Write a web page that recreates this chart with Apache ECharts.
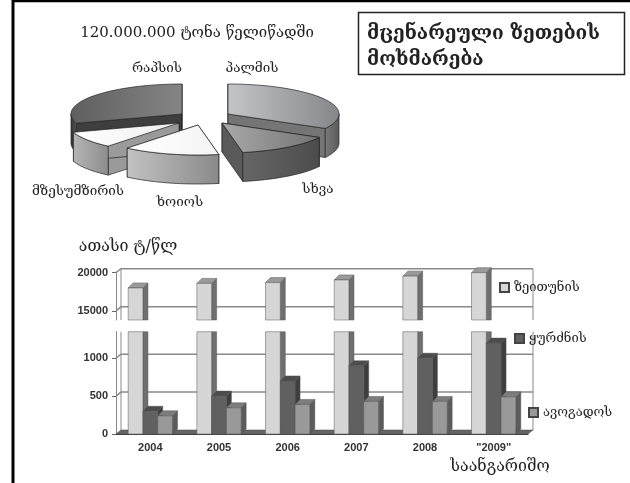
<!DOCTYPE html>
<html><head><meta charset="utf-8">
<style>html,body{margin:0;padding:0;background:#fff}#c{width:630px;height:483px;filter:blur(0.45px)}</style>
<script src="https://cdn.jsdelivr.net/npm/echarts@6/dist/echarts.min.js"></script></head>
<body><div id="c"></div>
<script>
const years=['2004','2005','2006','2007','2008','"2009"'];
const olive=[18000,18600,18700,19050,19550,20000];
const grape=[300,500,700,900,1000,1200];
const avocado=[240,345,390,430,430,490];
const seriesNames=['ზეითუნის','ყურძნის','ავოგადოს'];
const upperTicks=[15000,20000];
const lowerTicks=[0,500,1000];
const oilNames=['პალმის','სხვა','ხოიოს','მზესუმზირის','რაპსის'];
const oilShares=[33,14,14,9,30];

const GE='"DejaVu Serif","DejaVu Sans"';
const chart=echarts.init(document.getElementById('c'),null,{renderer:'canvas'});

/* ---------- pseudo 3D pie ---------- */
const RX=111,RY=30,DEPTH=29;
const apex=[[228,114],[222,123],[198,125],[179,123],[182,114]];
const pieStyle=[
 {top:['#c4c5c7','#85878a'],wall:['#7a7a7a','#5a5a5a'],cut:'#757575'},
 {top:['#a9a9a9','#747474'],wall:['#666','#4c4c4c'],cut:'#5a5a5a'},
 {top:['#ffffff','#f4f4f4'],wall:['#c2c2c2','#8a8a8a'],cut:'#a5a5a5'},
 {top:['#ffffff','#eeeeee'],wall:['#b5b5b5','#8c8c8c'],cut:'#9a9a9a'},
 {top:['#5f5f5f','#858585'],wall:['#333','#555'],cut:'#3e3e3e'}
];
const total=oilShares.reduce((a,b)=>a+b,0);
const drawOrder=[0,4,3,1,2];
function grad(a,b){return new echarts.graphic.LinearGradient(0,0,1,0,[{offset:0,color:a},{offset:1,color:b}]);}
function renderSlice(params,api){
  const i=drawOrder[params.dataIndex];
  let before=0;for(let k=0;k<i;k++)before+=oilShares[k];
  const a0=90-before/total*360, a1=a0-oilShares[i]/total*360;
  const [cx,cy]=apex[i];const st=pieStyle[i];
  const P=t=>[cx+RX*Math.cos(t*Math.PI/180),cy-RY*Math.sin(t*Math.PI/180)];
  const arc=[];for(let t=a0;t>=a1-0.01;t-=2)arc.push(P(t));arc.push(P(a1));
  const ch=[];
  const ln={stroke:'#222',lineWidth:0.7};
  const wall=(p,q,fill)=>ch.push({type:'polygon',shape:{points:[p,q,[q[0],q[1]+DEPTH],[p[0],p[1]+DEPTH]]},style:{fill:fill,...ln}});
  wall([cx,cy],arc[0],st.cut);
  wall([cx,cy],arc[arc.length-1],st.cut);
  const low=arc.filter((_,k)=>{const t=a0-k*2;return Math.sin(Math.max(t,a1)*Math.PI/180)<=0.02;});
  if(low.length>1){
    const pts=low.concat(low.slice().reverse().map(p=>[p[0],p[1]+DEPTH]));
    ch.push({type:'polygon',shape:{points:pts},style:{fill:grad(st.wall[0],st.wall[1]),...ln}});
  }
  ch.push({type:'polygon',shape:{points:[[cx,cy]].concat(arc)},style:{fill:grad(st.top[0],st.top[1]),...ln}});
  return {type:'group',children:ch};
}

/* ---------- pseudo 3D bars ---------- */
const BDX=5,BDY=-5;
const barStyle=[
 {front:'#d6d6d6',side:'#6f6f6f',top:'#9a9a9a'},
 {front:'#606060',side:'#3e3e3e',top:'#4c4c4c'},
 {front:'#999999',side:'#5c5c5c',top:'#7d7d7d'}
];
function barRenderer(idx){
 return function(params,api){
  const cs=params.coordSys;const cat=api.value(0),val=api.value(1);
  const c=api.coord([cat,val]);const band=api.size([1,0])[0];
  const w=band*0.215;const l=c[0]+(idx-1.5)*w,r=l+w;
  const bottom=cs.y+cs.height;
  if(c[1]>=bottom)return null;
  const clipped=c[1]<cs.y-0.5;const top=clipped?cs.y:c[1];
  const st=barStyle[idx];const ln={stroke:'#555',lineWidth:0.5};
  const ch=[];
  const isUpper=cs.y<300;
  const sb=isUpper?bottom:bottom+BDY;
  const sideTop=clipped?top:top+BDY;
  ch.push({type:'polygon',shape:{points:[[r,top],[r+BDX,sideTop],[r+BDX,sb],[r,bottom]]},style:{fill:st.side,...ln}});
  if(!clipped)ch.push({type:'polygon',shape:{points:[[l,top],[l+BDX,top+BDY],[r+BDX,top+BDY],[r,top]]},style:{fill:st.top,...ln}});
  ch.push({type:'rect',shape:{x:l,y:top,width:w,height:bottom-top},style:{fill:st.front,...ln}});
  return {type:'group',children:ch};
 };
}
/* back wall: one grid line per tick, plus verticals */
const WDX=5,WDY=-4,WALL='#8a8a8a';
function gridLineRenderer(params,api){
  const cs=params.coordSys;const y=api.coord([0,api.value(0)])[1];
  const L=cs.x,R=cs.x+cs.width;const b=y+WDY;
  const ch=[];
  if(api.value(0)!==0)ch.push({type:'polyline',shape:{points:[[L,y],[L+WDX,b],[R+WDX,b]]},style:{stroke:WALL,lineWidth:1.5,fill:null}});
  return {type:'group',children:ch};
}
function wallRenderer(params,api){
  const cs=params.coordSys;const L=cs.x,R=cs.x+cs.width,T=cs.y,B=cs.y+cs.height;
  const upper=cs.y<300;const ch=[];
  const backTop=upper?T+WDY:T;const backB=upper?B:B+WDY;
  ch.push({type:'line',shape:{x1:L+WDX,y1:backTop,x2:L+WDX,y2:backB},style:{stroke:WALL,lineWidth:1}});
  ch.push({type:'line',shape:{x1:R+WDX,y1:backTop,x2:R+WDX,y2:backB},style:{stroke:WALL,lineWidth:1}});
  if(!upper)ch.push({type:'polygon',shape:{points:[[L,B],[R,B],[R+WDX,B+WDY],[L+WDX,B+WDY]]},style:{fill:'#666',stroke:'#444',lineWidth:0.5}});
  return {type:'group',children:ch};
}
const pairs=d=>d.map((v,i)=>[i,v]);
const barSeries=[];
[olive,grape,avocado].forEach((arr,idx)=>{
  [0,1].forEach(g=>{
    barSeries.push({type:'custom',name:seriesNames[idx],xAxisIndex:g,yAxisIndex:g,z:3,
      itemStyle:{color:barStyle[idx].front,borderColor:'#444',borderWidth:1},
      renderItem:barRenderer(idx),data:pairs(arr),clip:false,silent:true,animation:false,
      encode:{x:0,y:1}});
  });
});
const wallSeries=[];
[[upperTicks,0],[lowerTicks,1]].forEach(([t,g])=>{
  wallSeries.push({type:'custom',xAxisIndex:g,yAxisIndex:g,z:1,renderItem:gridLineRenderer,
    data:t.map(v=>[v]),encode:{y:0},clip:false,silent:true,animation:false});
  wallSeries.push({type:'custom',xAxisIndex:g,yAxisIndex:g,z:1,renderItem:wallRenderer,
    data:[[0]],encode:{y:0},clip:false,silent:true,animation:false});
});

const pieLabelPos=[[252,68],[318,189],[180,202],[78,191],[157,68]];
const geText=(x,y,text,size,align,weight)=>({type:'text',x:x,y:y,silent:true,style:{text:text,font:(weight||'normal')+' '+size+'px '+GE,fill:'#222',textAlign:align||'center',textVerticalAlign:'middle'}});
const numLabel=v=>String(v);

const option={
 animation:false,backgroundColor:'#fff',
 grid:[
  {left:116,top:272.7,width:412,height:47.3},
  {left:116,top:331.7,width:412,height:102.3}
 ],
 xAxis:[
  {gridIndex:0,type:'category',data:years,show:false},
  {gridIndex:1,type:'category',data:years,
   axisLine:{lineStyle:{color:'#444',width:1.2}},axisTick:{length:3,lineStyle:{color:'#555'}},
   axisLabel:{color:'#333',fontFamily:'Liberation Sans',fontWeight:'bold',fontSize:11,margin:8}}
 ],
 yAxis:[
  {gridIndex:0,type:'value',min:13800,max:20000,splitLine:{show:false},
   axisLine:{show:true,lineStyle:{color:'#888'}},
   axisTick:{show:true,length:4,customValues:upperTicks,lineStyle:{color:'#666'}},
   axisLabel:{customValues:upperTicks,formatter:numLabel,color:'#333',fontFamily:'Liberation Sans',fontWeight:'bold',fontSize:11,margin:8}},
  {gridIndex:1,type:'value',min:0,max:1350,splitLine:{show:false},
   axisLine:{show:true,lineStyle:{color:'#888'}},
   axisTick:{show:true,length:4,customValues:lowerTicks,lineStyle:{color:'#666'}},
   axisLabel:{customValues:lowerTicks,formatter:numLabel,color:'#333',fontFamily:'Liberation Sans',fontWeight:'bold',fontSize:11,margin:8}}
 ],
 legend:seriesNames.map((n,i)=>({
   data:[n],left:[499,514,528][i],top:[281,332,406][i],itemWidth:9,itemHeight:9,itemGap:4,orient:'horizontal',
   selectedMode:false,textStyle:{fontFamily:GE,fontSize:13,color:'#222'},padding:0,icon:'rect'
 })),
 series:[
  {type:'custom',coordinateSystem:'none',renderItem:renderSlice,data:drawOrder.map(i=>[oilShares[i]]),silent:true,animation:false,z:2}
 ].concat(wallSeries,barSeries),
 graphic:{elements:[
  {type:'line',shape:{x1:13,y1:0,x2:13,y2:483},style:{stroke:'#000',lineWidth:3},silent:true},
  {type:'line',shape:{x1:13,y1:1,x2:630,y2:1},style:{stroke:'#000',lineWidth:2.5},silent:true},
  {type:'rect',shape:{x:358.5,y:12.5,width:266,height:62},style:{fill:'#fff',stroke:'#222',lineWidth:1.5},silent:true},
  geText(367,34,'მცენარეული ზეთების',19,'left','bold'),
  geText(367,60,'მოხმარება',19,'left','bold'),
  geText(197,33,'120.000.000 ტონა წელიწადში',15),
  ...oilNames.map((n,i)=>geText(pieLabelPos[i][0],pieLabelPos[i][1],n,13.5)),
  geText(128,247,'ათასი ტ/წლ',16),
  geText(500,467,'საანგარიშო',16)
 ]}
};
chart.setOption(option);
</script></body></html>
